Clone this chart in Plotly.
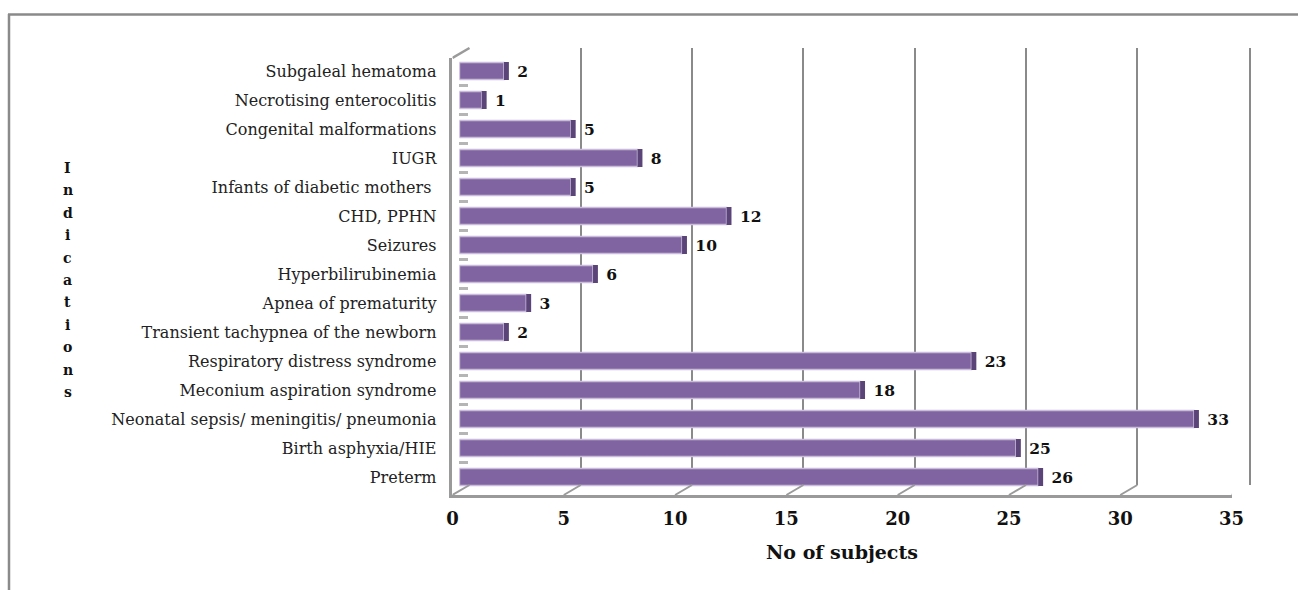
import plotly.graph_objects as go

# ---- data (bottom to top) ----
CATEGORIES = [
    "Preterm",
    "Birth asphyxia/HIE",
    "Neonatal sepsis/ meningitis/ pneumonia",
    "Meconium aspiration syndrome",
    "Respiratory distress syndrome",
    "Transient tachypnea of the newborn",
    "Apnea of prematurity",
    "Hyperbilirubinemia",
    "Seizures",
    "CHD, PPHN",
    "Infants of diabetic mothers ",
    "IUGR",
    "Congenital malformations",
    "Necrotising enterocolitis",
    "Subgaleal hematoma",
]
VALUES = [26, 25, 33, 18, 23, 2, 3, 6, 10, 12, 5, 8, 5, 1, 2]
X_TICKS = [0, 5, 10, 15, 20, 25, 30, 35]
X_TITLE = "No of subjects"
Y_TITLE = "Indications"

W, H = 1298, 590
# horizontal mapping of paper coordinates as observed in the rendered page
OX, RW = 6.0, 1280.5
def px(x):
    return (x - OX) / RW
def py(y):
    return 1 - y / H

SERIF = "DejaVu Serif"
BAR = "#8064A2"
BAR_EDGE = "#C9BCDB"
CAP = "#5B4478"
GRID = "#8A8A8A"
FRAME = "#9A9A9A"

fig = go.Figure()

# back-wall grid subplot (drawn first, behind the bars)
fig.add_trace(go.Scatter(x=[None], y=[None], xaxis="x", yaxis="y",
                         showlegend=False, hoverinfo="skip"))
# bars
fig.add_trace(go.Bar(
    y=CATEGORIES, x=VALUES, orientation="h",
    xaxis="x2", yaxis="y2", width=0.58,
    marker=dict(color=BAR, line=dict(color=BAR_EDGE, width=1.5)),
    showlegend=False, hoverinfo="skip",
))
# bar end caps (3D look) carrying the value labels
fig.add_trace(go.Bar(
    y=CATEGORIES, x=[0.22] * len(VALUES), base=VALUES, orientation="h",
    xaxis="x2", yaxis="y2", width=0.62,
    marker=dict(color=CAP, line=dict(width=0)),
    text=["\u00a0" + str(v) for v in VALUES], textposition="outside",
    textfont=dict(family=SERIF, size=19, color="#111111", weight="bold"),
    cliponaxis=False, showlegend=False, hoverinfo="skip",
))
# front frame subplot (floor line, left wall, tick labels)
fig.add_trace(go.Scatter(x=[None], y=[None], xaxis="x3", yaxis="y3",
                         showlegend=False, hoverinfo="skip"))

fig.update_layout(
    width=W, height=H,
    margin=dict(l=0, r=0, t=0, b=0),
    paper_bgcolor="white", plot_bgcolor="rgba(0,0,0,0)",
    barmode="overlay",
    # back wall
    xaxis=dict(domain=[px(470), px(1250)], range=[0, 35], anchor="y",
               tickvals=X_TICKS[1:-1], showgrid=True, gridcolor=GRID, gridwidth=2,
               showticklabels=False, zeroline=False, showline=False),
    yaxis=dict(domain=[py(485), py(48)], range=[0, 1], anchor="x", side="right",
               showgrid=False, showticklabels=False, zeroline=False,
               showline=True, linecolor=GRID, linewidth=2),
    # bars (drawn at mid depth)
    xaxis2=dict(domain=[px(460), px(1240)], range=[0, 35], anchor="y2",
                showgrid=False, zeroline=False, showline=False,
                showticklabels=False, ticks=""),
    yaxis2=dict(domain=[py(491.5), py(56.5)], range=[-0.5, 14.5], anchor="x2",
                type="category", categoryorder="array", categoryarray=CATEGORIES,
                showgrid=False, zeroline=False, showline=False,
                ticks="inside", tickson="boundaries", ticklen=9, tickwidth=3,
                tickcolor="#B5B5B5", ticklabelstandoff=22,
                tickfont=dict(family=SERIF, size=16, color="#222222")),
    # front frame
    xaxis3=dict(domain=[px(453), px(1233)], range=[0, 35], anchor="y3",
                tickvals=X_TICKS, showgrid=False, zeroline=False,
                showline=True, linecolor=FRAME, linewidth=2.5,
                ticks="", ticklabelstandoff=6,
                tickfont=dict(family=SERIF, size=18, color="#111111", weight="bold")),
    yaxis3=dict(domain=[py(495), py(58)], range=[0, 1], anchor="x3",
                showgrid=False, zeroline=False, showticklabels=False,
                showline=True, linecolor=FRAME, linewidth=3),
    font=dict(family=SERIF),
)

shapes = []
# floor depth diagonals at each tick
for v in X_TICKS:
    shapes.append(dict(type="line", xref="x3", yref="y3 domain",
                       xsizemode="pixel", xanchor=v, x0=0, x1=17,
                       ysizemode="pixel", yanchor=0, y0=0, y1=10,
                       line=dict(color=FRAME, width=2)))
# left wall top diagonal
shapes.append(dict(type="line", xref="x3", yref="y3 domain",
                   xsizemode="pixel", xanchor=0, x0=0, x1=17,
                   ysizemode="pixel", yanchor=1, y0=0, y1=10,
                   line=dict(color=FRAME, width=2.5)))
# outer chart frame (top and left edges)
shapes.append(dict(type="line", xref="paper", yref="paper",
                   x0=px(8), x1=1.02, y0=py(14.5), y1=py(14.5),
                   line=dict(color="#8A8A8A", width=2.5)))
shapes.append(dict(type="line", xref="paper", yref="paper",
                   x0=px(9), x1=px(9), y0=py(14), y1=0,
                   line=dict(color="#8A8A8A", width=2.5)))
fig.update_layout(shapes=shapes)

annotations = [dict(text=X_TITLE, xref="paper", yref="paper",
                    x=px(843), y=py(552), xanchor="center", yanchor="middle",
                    showarrow=False,
                    font=dict(family=SERIF, size=19, color="#111111", weight="bold"))]
# vertical stacked y-axis title
n = len(Y_TITLE)
top, bottom = 168, 392
for i, ch in enumerate(Y_TITLE):
    yy = top + (bottom - top) * i / (n - 1)
    annotations.append(dict(text=ch, xref="paper", yref="paper",
                            x=px(68), y=py(yy), xanchor="center", yanchor="middle",
                            showarrow=False,
                            font=dict(family=SERIF, size=14, color="#111111", weight="bold")))
fig.update_layout(annotations=annotations)

fig.write_html("out.html")
